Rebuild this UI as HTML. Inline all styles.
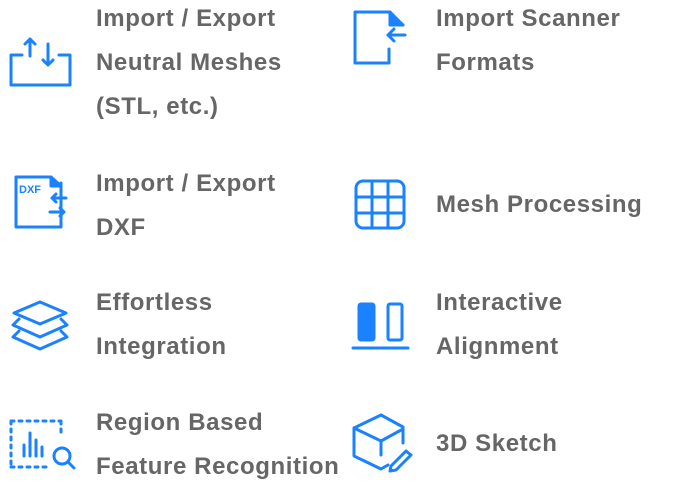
<!DOCTYPE html><html><head><style>
body{margin:0;width:680px;height:484px;background:#fff;position:relative;overflow:hidden;font-family:"Liberation Sans",sans-serif;}
.t{position:absolute;color:#666;font-weight:bold;font-size:24px;line-height:44px;letter-spacing:0.6px;white-space:nowrap}
svg{position:absolute;left:0;top:0}
</style></head><body>
<div class="t" style="left:96px;top:-3px">Import / Export<br>Neutral Meshes<br>(STL, etc.)</div>
<div class="t" style="left:436px;top:-3px">Import Scanner<br>Formats</div>
<div class="t" style="left:96px;top:162px">Import / Export<br>DXF</div>
<div class="t" style="left:436px;top:183px">Mesh Processing</div>
<div class="t" style="left:96px;top:281px">Effortless<br>Integration</div>
<div class="t" style="left:436px;top:281px">Interactive<br>Alignment</div>
<div class="t" style="left:96px;top:401px">Region Based<br>Feature Recognition</div>
<div class="t" style="left:436px;top:422px">3D Sketch</div>
<svg width="680" height="484" fill="none" stroke="#1a82ff" stroke-width="3" stroke-linecap="round" stroke-linejoin="round">
<path d="M22 55H11V85H70V55H59"/>
<path d="M30 56V39M25 44L30 39L35 44"/>
<path d="M48 44V65M43 60L48 65L53 60"/>
<path d="M389 49V63H355V12H390L403 25"/><path d="M390 12V25H403" fill="#1a82ff"/>
<path d="M405 35H388M394 29L388 35L394 41"/>
<rect x="356" y="181" width="48" height="47" rx="7"/>
<path d="M372 181V228M388 181V228M356 197H404M356 213H404"/>
<path d="M61 183V227H16V177H51L61 186" /><path d="M51 177V186H61" fill="#1a82ff"/>
<text x="19" y="193" fill="#1a82ff" stroke="none" font-family="Liberation Sans" font-weight="bold" font-size="11">DXF</text>
<path d="M66 198H52M56 194L52 198L56 202M50 212H64M60 208L64 212L60 216"/>
<path d="M40 302L66 313L40 324L14 313Z"/>
<path d="M19 319L13 325L40 337L67 325L61 319"/>
<path d="M19 331L13 337L40 349L67 337L61 331"/>
<rect x="359" y="304" width="15" height="36" rx="2" fill="#1a82ff"/>
<rect x="388" y="304" width="14" height="36" rx="2"/>
<path d="M353 348H408"/>
<path d="M11 421H61M11 421V467M11 467H50M61 421V432" stroke-dasharray="3 5"/>
<path d="M24 445V456M30 433V456M36 440V456M42 447V456"/>
<circle cx="62" cy="456" r="8"/><path d="M68 462L74 468"/>
<path d="M381 415L403 427V443M381 415L354 428V456L381 469L388 465M354 428L381 441L403 429M381 441V455"/>
<path d="M391 466L406 451L411 455L396 470L390 471Z"/>
</svg>
</body></html>
